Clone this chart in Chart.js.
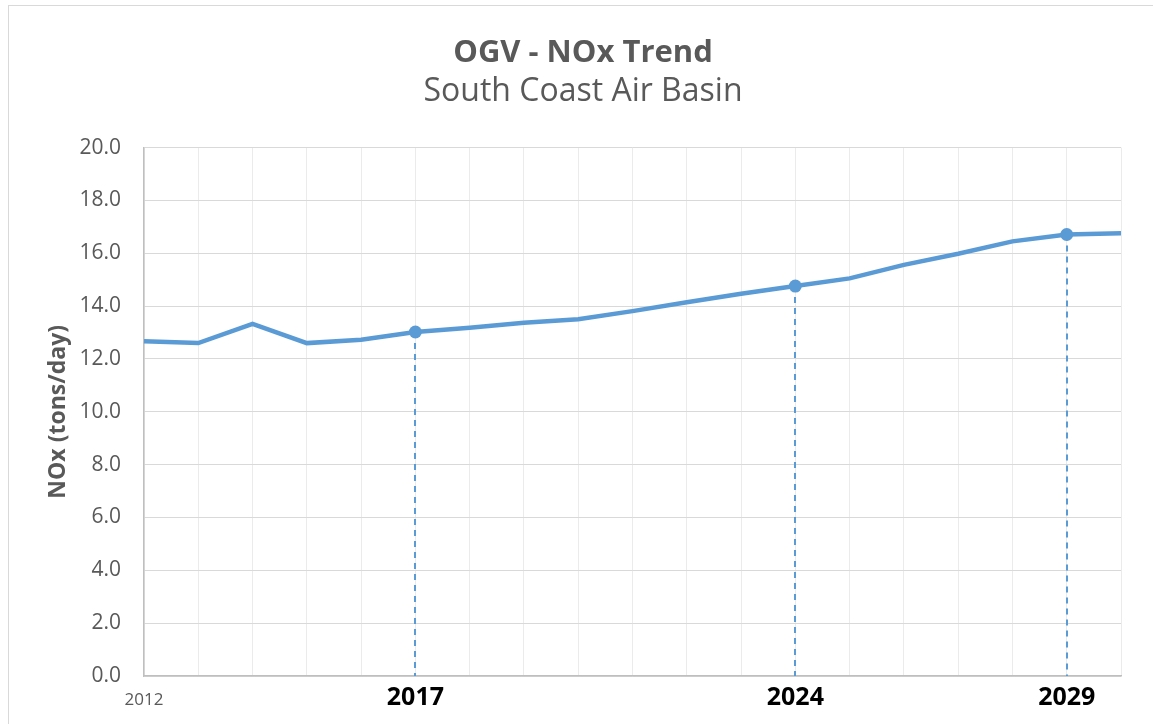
<!DOCTYPE html>
<html>
<head>
<meta charset="utf-8">
<script src="https://cdn.jsdelivr.net/npm/chart.js@4"></script>
<style>
    html, body { margin: 0; padding: 0; background: #fff; }
    #frame {
        position: absolute; left: 8px; top: 5px; width: 1160px; height: 740px;
        border: 1px solid #D9D9D9; box-sizing: border-box;
    }
    #wrap { position: absolute; left: 0; top: 0; width: 1153px; height: 724px; }
</style>
</head>
<body>
<div id="frame"></div>
<div id="wrap"><canvas id="chart"></canvas></div>
<script>
// Years along the x axis
const years = ['2012', '2013', '2014', '2015', '2016', '2017', '2018', '2019', '2020', '2021',
               '2022', '2023', '2024', '2025', '2026', '2027', '2028', '2029', '2030'];
// NOx emissions, tons/day
const noxValues = [12.67, 12.6, 13.33, 12.6, 12.73, 13.02, 13.18, 13.37, 13.5, 13.81,
                   14.15, 14.47, 14.76, 15.05, 15.56, 15.98, 16.45, 16.71, 16.76];
// Years that get a marker and a dashed drop line
const markedYears = ['2017', '2024', '2029'];
// Years shown as x tick labels
const tickYears = ['2012', '2017', '2024', '2029'];
const yTicks = [0, 2, 4, 6, 8, 10, 12, 14, 16, 18, 20];

const blue = '#5B9BD5';
const gray = '#595959';

// Dashed lines from the marked points down to the x axis
const dropLines = {
    id: 'dropLines',
    beforeDatasetsDraw(chart) {
        const ctx = chart.ctx;
        const meta = chart.getDatasetMeta(0);
        const yBottom = chart.scales.y.getPixelForValue(0);
        ctx.save();
        ctx.strokeStyle = blue;
        ctx.lineWidth = 2;
        ctx.setLineDash([6, 5]);
        markedYears.forEach(year => {
            const pt = meta.data[years.indexOf(year)];
            const x = Math.round(pt.x);
            ctx.beginPath();
            ctx.moveTo(x, pt.y);
            ctx.lineTo(x, yBottom);
            ctx.stroke();
        });
        ctx.restore();
    }
};

new Chart(document.getElementById('chart'), {
    type: 'line',
    data: {
        labels: years,
        datasets: [{
            data: noxValues,
            borderColor: blue,
            backgroundColor: blue,
            borderWidth: 4.5,
            tension: 0,
            pointRadius: ctx => markedYears.includes(years[ctx.dataIndex]) ? 6.5 : 0,
            pointHoverRadius: ctx => markedYears.includes(years[ctx.dataIndex]) ? 6.5 : 0,
            pointBorderWidth: 0,
            pointBackgroundColor: blue
        }]
    },
    options: {
        responsive: true,
        maintainAspectRatio: false,
        animation: false,
        events: [],
        layout: { padding: { left: 45, right: 32, top: 0, bottom: 0 } },
        plugins: {
            legend: { display: false },
            tooltip: { enabled: false },
            title: {
                display: true,
                text: 'OGV - NOx Trend',
                color: gray,
                font: { family: 'Open Sans', size: 31, weight: 'bold', lineHeight: 1.2 },
                padding: { top: 35, bottom: 0 }
            },
            subtitle: {
                display: true,
                text: 'South Coast Air Basin',
                color: gray,
                font: { family: 'Open Sans', size: 32, weight: 'normal', lineHeight: 1.2 },
                padding: { top: 0, bottom: 37 }
            }
        },
        scales: {
            x: {
                grid: { color: '#EBEBEB', lineWidth: 1, drawTicks: false },
                border: { color: '#BFBFBF', width: 1.5 },
                ticks: {
                    autoSkip: false,
                    maxRotation: 0,
                    padding: 14,
                    callback: function (value) {
                        const label = this.getLabelForValue(value);
                        return tickYears.includes(label) ? label : '';
                    },
                    color: ctx => years[ctx.index] === '2012' ? gray : '#000000',
                    font: ctx => years[ctx.index] === '2012'
                        ? { family: 'Open Sans', size: 17, weight: 'normal', lineHeight: 1.2 }
                        : { family: 'Open Sans', size: 25, weight: 'bold', lineHeight: 0.6 }
                },
                afterFit: scale => { scale.height = 48; }
            },
            y: {
                min: 0,
                max: 20,
                afterBuildTicks: scale => { scale.ticks = yTicks.map(v => ({ value: v })); },
                grid: { color: '#D9D9D9', lineWidth: 1, drawTicks: false },
                border: { color: '#BFBFBF', width: 1.5 },
                ticks: {
                    padding: 23,
                    color: gray,
                    font: { family: 'Open Sans', size: 21 },
                    callback: v => v.toFixed(1)
                },
                title: {
                    display: true,
                    text: 'NOx (tons/day)',
                    color: gray,
                    padding: 0,
                    font: { family: 'Open Sans', size: 23, weight: 'bold', lineHeight: 1.2 }
                },
                afterFit: scale => { scale.width = 99; }
            }
        }
    },
    plugins: [dropLines]
});
</script>
</body>
</html>
